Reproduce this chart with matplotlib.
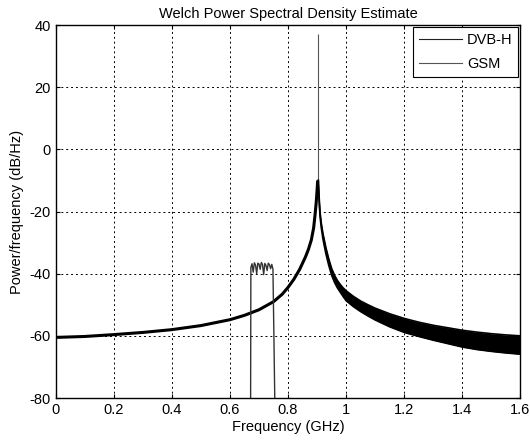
#!/usr/bin/env python3
# Welch PSD estimate: DVB-H carrier vs. GSM band

import numpy as np
import matplotlib.pyplot as plt
from matplotlib.ticker import FormatStrFormatter

plt.rcParams['font.family'] = ['Liberation Sans', 'DejaVu Sans']
plt.rcParams['font.size'] = 10.5
plt.rcParams['axes.unicode_minus'] = False

# DVB-H, rising flank up to the carrier (GHz, dB/Hz)
dvb_f_left = [0, 0.1, 0.2, 0.3, 0.4, 0.5, 0.6, 0.65, 0.7, 0.75, 0.78, 0.8,
              0.82, 0.84, 0.86, 0.87, 0.88, 0.888, 0.893, 0.897, 0.9, 0.902]
dvb_p_left = [-60.5, -60.2, -59.6, -58.9, -58.0, -56.7, -54.8, -53.4, -51.6,
              -49.0, -46.6, -44.4, -41.8, -38.6, -34.6, -32.2, -29.2, -25.3,
              -21.0, -17.0, -13.0, -10.0]

# narrow carrier spike
spike_f = 0.903
spike_lo = -10.0
spike_hi = 37.0

# DVB-H, falling flank: upper / lower envelope of the ripple band
dvb_f_right = [0.904, 0.906, 0.908, 0.91, 0.914, 0.92, 0.93, 0.94, 0.95, 0.96,
               0.97, 0.98, 0.99, 1.0, 1.025, 1.05, 1.075, 1.1, 1.15, 1.2, 1.25,
               1.3, 1.35, 1.4, 1.45, 1.5, 1.55, 1.6]
dvb_hi_right = [-10, -13.5, -17, -20, -23.5, -27, -31.5, -35.2, -38.3, -40.5,
                -42.2, -43.5, -44.6, -45.5, -47.3, -48.8, -50.0, -51.1, -52.9,
                -54.4, -55.6, -56.6, -57.4, -58.2, -58.8, -59.3, -59.7, -60.0]
dvb_lo_right = [-10, -14.5, -18.5, -21.5, -25, -28.8, -33.5, -37.3, -40.5,
                -42.8, -44.6, -46.0, -47.4, -48.7, -50.6, -52.2, -53.6, -54.9,
                -57.1, -58.9, -60.2, -61.4, -62.5, -63.6, -64.4, -65.0, -65.5,
                -65.9]

# GSM band
gsm_f = [0.671, 0.672, 0.676, 0.68, 0.684, 0.688, 0.692, 0.696, 0.70, 0.704,
         0.708, 0.712, 0.716, 0.72, 0.724, 0.728, 0.732, 0.736, 0.74, 0.744,
         0.748, 0.755]
gsm_p = [-85, -38, -36.8, -39.5, -36.5, -37.2, -40, -36.6, -36.9, -38.6,
         -36.4, -37, -40.3, -36.7, -37.3, -39, -36.6, -37.1, -38.4, -37,
         -38.5, -85]

fig = plt.figure(figsize=(5.3, 4.42), dpi=100)
ax = fig.add_axes([0.105, 0.0995, 0.877, 0.8439])

ax.plot(dvb_f_left, dvb_p_left, color='black', lw=2.2, solid_capstyle='butt')
ax.vlines(spike_f, spike_lo, spike_hi, color='#555555', lw=0.8)
ax.fill_between(dvb_f_right, dvb_lo_right, dvb_hi_right, color='black', lw=0)
ax.plot(dvb_f_right, dvb_hi_right, color='black', lw=1.2)
ax.plot(dvb_f_right, dvb_lo_right, color='black', lw=1.2)
ax.plot(gsm_f, gsm_p, color='#333333', lw=1.0)

# legend proxies
ax.plot([], [], color='#222222', lw=0.8, label='DVB-H')
ax.plot([], [], color='#555555', lw=0.8, label='GSM')

ax.set_xlim(0, 1.6)
ax.set_ylim(-80, 40)
ax.set_xticks(np.arange(0, 1.61, 0.2))
ax.set_yticks(np.arange(-80, 41, 20))
ax.xaxis.set_major_formatter(FormatStrFormatter('%g'))
ax.tick_params(direction='in', top=True, right=True, length=3, colors='black',
               labelsize=10.5)
ax.grid(True, color='black', linestyle=(0, (2, 3)), lw=0.7)
for s in ax.spines.values():
    s.set_color('black')
    s.set_linewidth(1.0)

ax.set_title('Welch Power Spectral Density Estimate', fontsize=10.5, pad=5)
ax.set_xlabel('Frequency (GHz)', labelpad=2)
ax.set_ylabel('Power/frequency (dB/Hz)', labelpad=4)

leg = ax.legend(loc='upper right', fancybox=False, framealpha=1, edgecolor='black',
                handlelength=3.0, handletextpad=0.3, labelspacing=0.7,
                borderpad=0.4, borderaxespad=0.15)
leg.get_frame().set_linewidth(0.8)

plt.savefig('out.png', dpi=100)
